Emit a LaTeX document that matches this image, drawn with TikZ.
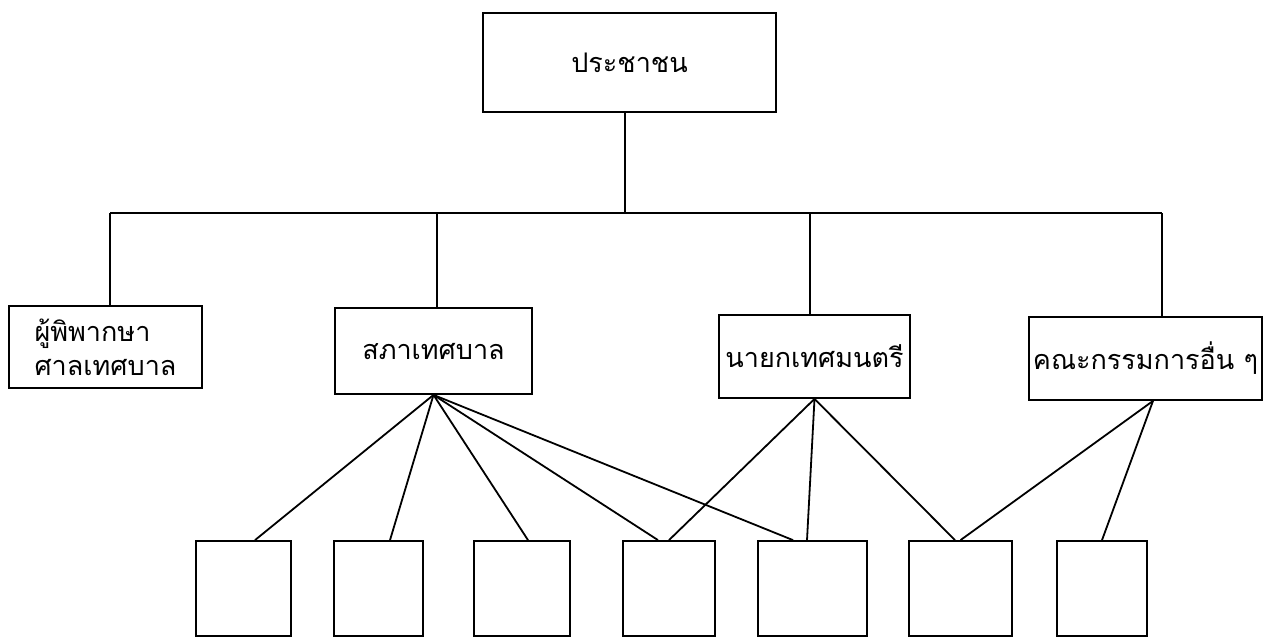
\documentclass[tikz,border=0pt]{standalone}
\usepackage{fontspec}
\newfontfamily\thaifont[Script=Thai]{Loma}
\usetikzlibrary{calc}   %for the shifted ends of the connectors

\begin{document}
\begin{tikzpicture}[x=0.5pt,y=-0.5pt,line width=0.9pt,
  unit/.style={draw,rectangle,inner sep=0pt,align=left,font=\thaifont\fontsize{13.5}{17}\selectfont},
  cell/.style={draw,rectangle,inner sep=0pt,minimum height=47.5pt}]
\useasboundingbox (0,0) rectangle (1273,638);

% the people at the top
\node[unit,minimum width=146.5pt,minimum height=49.5pt] (pracha) at (629.5,62.5) {ประชาชน};

% the four bodies in the middle row
\node[unit,minimum width=96.5pt,minimum height=41pt] (judge) at (105.5,347) {ผู้พิพากษา\\ศาลเทศบาล};
\node[unit,minimum width=98.5pt,minimum height=43pt] (sapha) at (433.5,351) {สภาเทศบาล};
\node[unit,minimum width=95.5pt,minimum height=41.5pt] (nayok) at (814.5,356.5) {นายกเทศมนตรี};
\node[unit,minimum width=116.5pt,minimum height=41.5pt] (khana) at (1145.5,358.5) {คณะกรรมการอื่น ๆ};

% the empty boxes at the bottom
\foreach \n/\x/\w in {1/243.5/47.5pt, 2/378.5/44.5pt, 3/522/48pt, 4/669/46pt,
                      5/812.5/54.5pt, 6/960.5/51.5pt, 7/1102/45pt}
  \node[cell,minimum width=\w] (c\n) at (\x,588.5) {};

% bus line under the people
\coordinate (bus) at (625,213);
\draw (pracha.south -| bus) -- (bus);
\draw ($(judge.north |- bus)+(4.5,0)$) -- ($(khana.north |- bus)+(16.5,0)$);
\foreach \n/\dx in {judge/4.5, sapha/3.5, nayok/-4.5, khana/16.5}
  \draw ($(\n.north)+(\dx,0)$) -- ($(\n.north |- bus)+(\dx,0)$);

% lines down to the bottom boxes
\draw (sapha.south) -- ($(c1.north)+(11.5,0)$);
\draw (sapha.south) -- ($(c2.north)+(11.5,0)$);
\draw (sapha.south) -- ($(c3.north)+(6,0)$);
\draw (sapha.south) -- ($(c4.north)+(-11,0)$);
\draw (sapha.south) -- ($(c5.north)+(-19.5,0)$);

\draw (nayok.south) -- (c4.north);
\draw (nayok.south) -- ($(c5.north)+(-5.5,0)$);
\draw (nayok.south) -- ($(c6.north)+(-5.5,0)$);

\draw ($(khana.south)+(7.5,0)$) -- (c6.north);
\draw ($(khana.south)+(7.5,0)$) -- (c7.north);

\end{tikzpicture}
\end{document}
